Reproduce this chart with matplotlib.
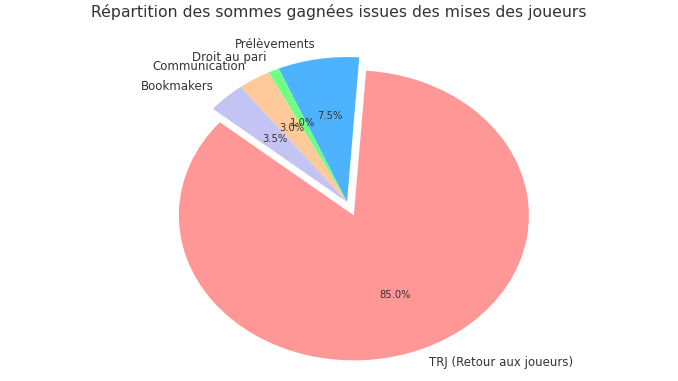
import matplotlib
matplotlib.use("Agg")
import matplotlib.pyplot as plt

labels = ["TRJ (Retour aux joueurs)", "Prélèvements", "Droit au pari", "Communication", "Bookmakers"]
values = [85.0, 7.5, 1.0, 3.0, 3.5]
colors = ["#ff9797", "#4db3ff", "#70ff85", "#ffc999", "#c4c4f4"]
explode = [0.1, 0, 0, 0, 0]
title = "Répartition des sommes gagnées issues des mises des joueurs"

fig = plt.figure(figsize=(6.78, 3.81), dpi=100)
ax = fig.add_axes([0.1892, -0.006, 0.6453, 0.9514])
wedges, texts, autotexts = ax.pie(values, labels=labels, colors=colors, explode=explode,
                                  startangle=140, autopct="%1.1f%%",
                                  textprops={"fontsize": 8.5, "color": "#333333"})
for t in autotexts:
    t.set_fontsize(7.2)
ax.set_aspect("auto")
ax.set_xlim(-1.25, 1.25)
ax.set_ylim(-1.25, 1.25)
fig.text(0.5, 0.968, title, ha="center", va="center", fontsize=11.3, color="#333333")
fig.savefig("out.png", dpi=100)
